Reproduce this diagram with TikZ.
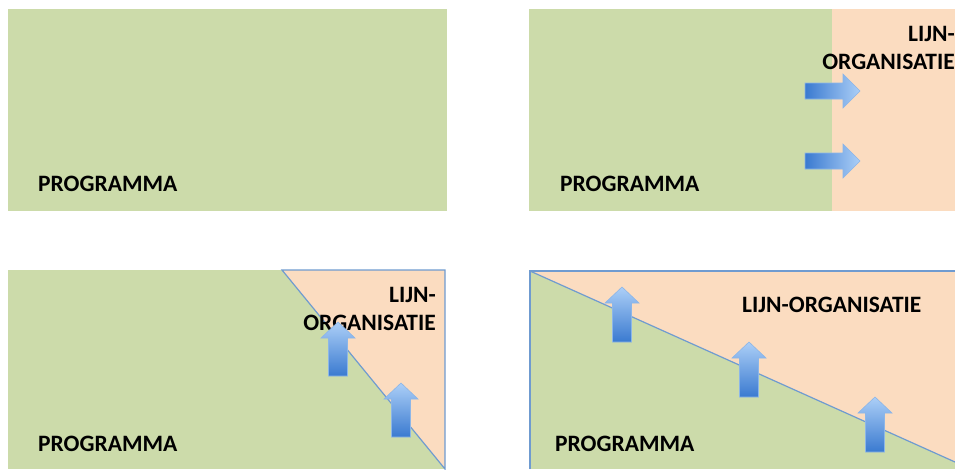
\documentclass[tikz,border=0pt]{standalone}
\usepackage{fontspec}
\setmainfont{Carlito}
\usetikzlibrary{positioning}
\definecolor{proggreen}{RGB}{204,219,170}
\definecolor{lijnpeach}{RGB}{251,220,192}
\definecolor{edgeblue}{RGB}{111,155,208}
\definecolor{arrowdark}{RGB}{58,122,208}
\definecolor{arrowlight}{RGB}{172,207,247}
\definecolor{arrowedge}{RGB}{140,182,232}
\tikzset{
   programma/.style={
     fill=proggreen
   },
   lijn/.style={
     fill=lijnpeach
   },
   grens/.style={
     draw=edgeblue, line width=1.2pt
   },
   label/.style={
     inner sep=0pt, font=\fontsize{23.5}{28}\selectfont\bfseries
   },
   uparrow/.style={
     draw=arrowedge, line width=0.6pt,
     top color=arrowlight, bottom color=arrowdark
   },
   rightarrow/.style={
     draw=arrowedge, line width=0.6pt,
     left color=arrowdark, right color=arrowlight
   }
}

\begin{document}
\begin{tikzpicture}[x=1pt,y=-1pt]
            \useasboundingbox (0,0) rectangle (955,469);

            % linksboven
            \fill[programma] (8,9) rectangle (447,211);
            \node[label, anchor=base west](prog1) at (38,191) {PROGRAMMA};

            % rechtsboven
            \fill[programma] (529,9) rectangle (832,211);
            \fill[lijn] (832,9) rectangle (955,211);
            \node[label, anchor=base west](prog2) at (560,191) {PROGRAMMA};
            \node[label, align=right, anchor=north east](lijn2) at (955,26) {LIJN-\\ORGANISATIE};
            \foreach \y in {91,161}
               \shade[rightarrow] (860,\y) -- ++(-17,-17) -- ++(0,9) -- ++(-38,0) -- ++(0,16) -- ++(38,0) -- ++(0,9) -- cycle;

            % linksonder
            \fill[programma] (8,270) rectangle (445,469);
            \fill[lijn] (282,270) -- (445,270) -- (445,469) -- cycle;
            \draw[grens] (282,270) -- (445,270) -- (445,469) -- cycle;
            \node[label, anchor=base west](prog3) at (38,451) {PROGRAMMA};
            \node[label, align=right, anchor=north east](lijn3) at (436,287) {LIJN-\\ORGANISATIE};
            \foreach \x/\y in {338/322, 401/383}
               \shade[uparrow] (\x,\y) -- ++(17,16) -- ++(-7.5,0) -- ++(0,38) -- ++(-19,0) -- ++(0,-38) -- ++(-7.5,0) -- cycle;

            % rechtsonder
            \fill[programma] (530,271) rectangle (955,469);
            \fill[lijn] (530,271) -- (955,271) -- (955,462) -- cycle;
            \draw[grens] (530,469) -- (530,271) -- (955,271);
            \draw[grens] (530,271) -- (955,462);
            \node[label, anchor=base west](prog4) at (555,451) {PROGRAMMA};
            \node[label, anchor=base west](lijn4) at (742,312) {LIJN-ORGANISATIE};
            \foreach \x/\y in {622/287, 749/342, 875/397}
               \shade[uparrow] (\x,\y) -- ++(17,16) -- ++(-7.5,0) -- ++(0,39) -- ++(-19,0) -- ++(0,-39) -- ++(-7.5,0) -- cycle;
         \end{tikzpicture}
\end{document}
